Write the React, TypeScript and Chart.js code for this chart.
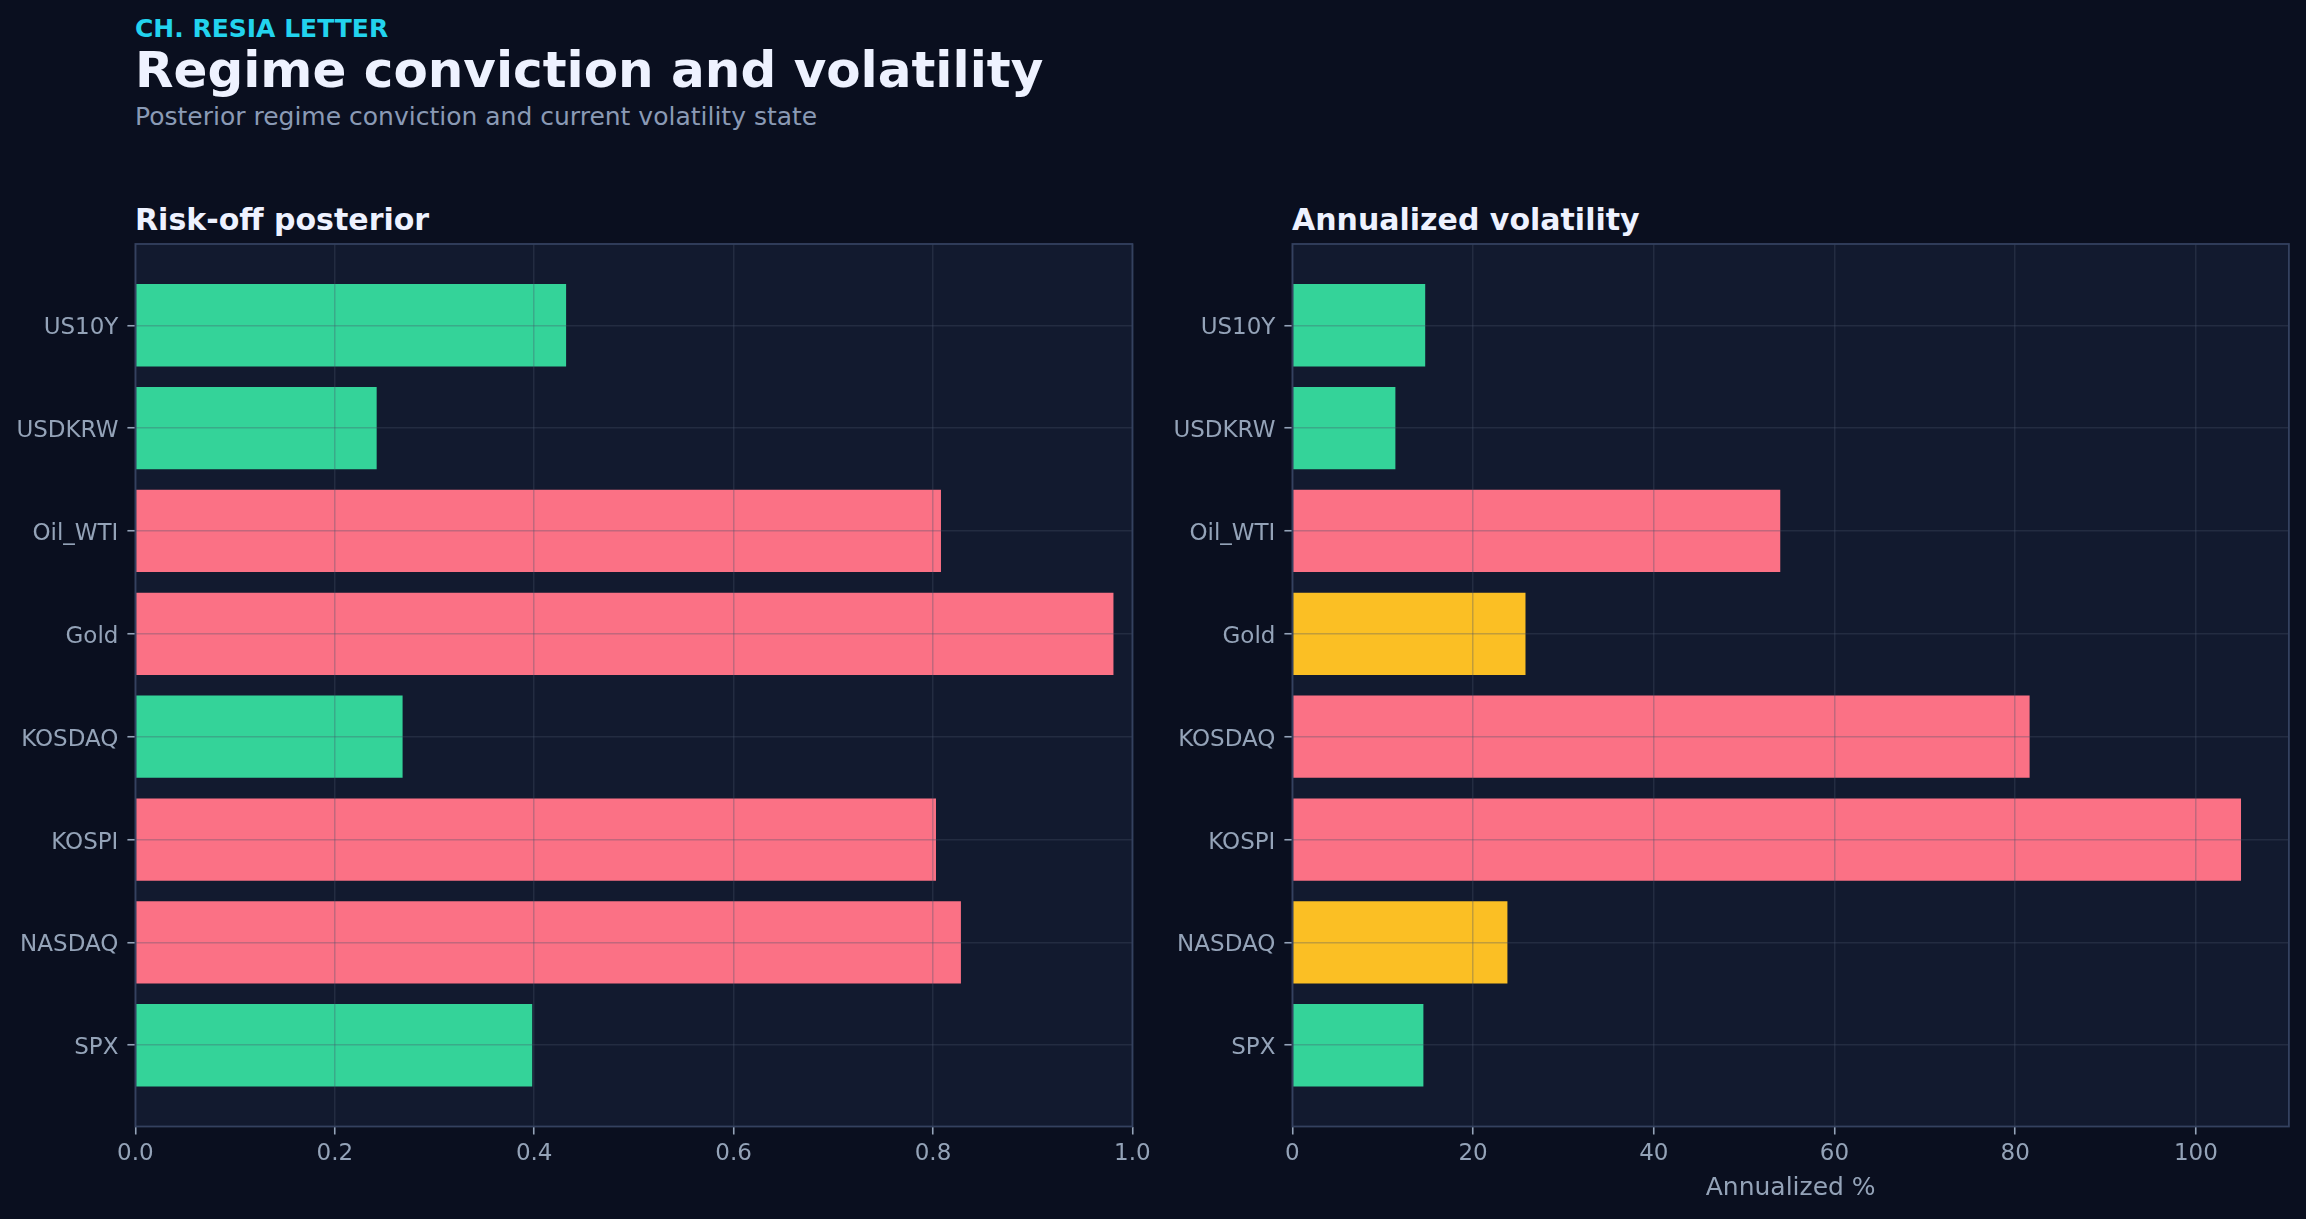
import React, { useEffect, useRef } from 'react';
import { Chart, registerables } from 'chart.js';

Chart.register(...registerables);

// ---------- data (bottom-to-top order, as drawn on the y axis) ----------
const categories = ['SPX', 'NASDAQ', 'KOSPI', 'KOSDAQ', 'Gold', 'Oil_WTI', 'USDKRW', 'US10Y'];
const riskOffPosterior = [0.398, 0.828, 0.803, 0.268, 0.981, 0.808, 0.242, 0.432];
const annualizedVol = [14.5, 23.8, 105.0, 81.6, 25.8, 54.0, 11.4, 14.7];
const posteriorTicks = [0, 0.2, 0.4, 0.6, 0.8, 1.0];
const volTicks = [0, 20, 40, 60, 80, 100];

// ---------- styles ----------
const FONT = '"DejaVu Sans", "Noto Sans", sans-serif';
const PAGE_BG = '#0a0f1f';
const PLOT_BG = '#121a2f';
const FRAME = '#34415f';
const GRID = 'rgba(71,85,105,0.32)';
const TICK = '#94a3b8';
const LABEL = '#94a3b8';
const GREEN = '#34d399';
const PINK = '#fb7185';
const AMBER = '#fbbf24';

const posteriorColor = (v: number) => (v >= 0.5 ? PINK : GREEN);
const volColor = (v: number) => (v < 20 ? GREEN : v < 50 ? AMBER : PINK);

const panelPlugin = {
  id: 'panelFrame',
  beforeDraw(chart: any) {
    const { ctx, chartArea: a } = chart;
    ctx.save();
    ctx.fillStyle = PLOT_BG;
    ctx.fillRect(a.left, a.top, a.right - a.left, a.bottom - a.top);
    ctx.restore();
  },
  afterDraw(chart: any) {
    const { ctx, chartArea: a } = chart;
    ctx.save();
    ctx.strokeStyle = FRAME;
    ctx.lineWidth = 1.8;
    ctx.strokeRect(a.left, a.top, a.right - a.left, a.bottom - a.top);
    ctx.restore();
  },
};

interface PanelProps {
  values: number[];
  colorFn: (v: number) => string;
  xMax: number;
  xTicks: number[];
  fmt: (v: number) => string;
  xTitle?: string;
  left: number;
  width: number;
  yAxisWidth: number;
  padRight: number;
}

const CANVAS_TOP = 234;
const CANVAS_H = 985;
const PAD_TOP = 10;
const X_AXIS_H = 92.5;

const zeroPad = (s: any) => {
  s.paddingTop = 0;
  s.paddingBottom = 0;
  s.paddingLeft = 0;
  s.paddingRight = 0;
};

function Panel(p: PanelProps) {
  const ref = useRef<HTMLCanvasElement | null>(null);
  useEffect(() => {
    if (!ref.current) return;
    const gridOpts = {
      z: 1,
      offset: false,
      color: GRID,
      lineWidth: 1.5,
      tickColor: TICK,
      tickLength: 8,
      tickWidth: 1.6,
      drawTicks: true,
    };
    const chart = new Chart(ref.current, {
      type: 'bar',
      data: {
        datasets: [
          {
            data: p.values.map((v, i) => ({ x: v, y: i })),
            backgroundColor: p.values.map(p.colorFn),
            borderWidth: 0,
            barPercentage: 0.8,
            categoryPercentage: 1.0,
          },
        ],
      },
      options: {
        indexAxis: 'y',
        responsive: false,
        animation: false,
        devicePixelRatio: 1,
        layout: { padding: { top: PAD_TOP, right: p.padRight, bottom: 0, left: 0 } },
        plugins: { legend: { display: false }, tooltip: { enabled: false } },
        scales: {
          y: {
            type: 'linear',
            offset: false,
            min: -0.79,
            max: 7.79,
            afterBuildTicks: (s: any) => {
              s.ticks = categories.map((_, i) => ({ value: i }));
            },
            afterFit: (s: any) => {
              s.width = p.yAxisWidth;
              zeroPad(s);
            },
            grid: gridOpts,
            border: { display: false },
            ticks: {
              autoSkip: false,
              color: LABEL,
              padding: 9,
              labelOffset: 3,
              font: { family: FONT, size: 23 },
              callback: (v: any) => categories[v as number] ?? '',
            },
          },
          x: {
            type: 'linear',
            position: 'bottom',
            offset: false,
            min: 0,
            max: p.xMax,
            afterBuildTicks: (s: any) => {
              s.ticks = p.xTicks.map((v) => ({ value: v }));
            },
            afterFit: (s: any) => {
              s.height = X_AXIS_H;
              zeroPad(s);
            },
            grid: gridOpts,
            border: { display: false },
            ticks: {
              autoSkip: false,
              maxRotation: 0,
              color: LABEL,
              padding: 6,
              font: { family: FONT, size: 23 },
              callback: (v: any) => p.fmt(v as number),
            },
            title: {
              display: !!p.xTitle,
              text: p.xTitle || '',
              color: LABEL,
              font: { family: FONT, size: 25 },
              padding: { top: 0, bottom: 16 },
            },
          },
        },
      },
      plugins: [panelPlugin],
    } as any);
    return () => chart.destroy();
  }, []);
  return (
    <canvas
      ref={ref}
      width={p.width}
      height={CANVAS_H}
      style={{ position: 'absolute', left: p.left, top: CANVAS_TOP, width: p.width, height: CANVAS_H }}
    />
  );
}

function Txt(props: { text: string; left: number; baseline: number; size: number; color: string; bold?: boolean }) {
  const top = props.baseline - 0.846 * props.size;
  return (
    <div
      style={{
        position: 'absolute',
        left: props.left,
        top,
        fontFamily: FONT,
        fontSize: props.size,
        lineHeight: `${props.size}px`,
        fontWeight: props.bold ? 700 : 400,
        color: props.color,
        whiteSpace: 'nowrap',
      }}
    >
      {props.text}
    </div>
  );
}

export default function App() {
  useEffect(() => {
    document.body.style.margin = '0';
    document.body.style.background = PAGE_BG;
  }, []);
  return (
    <div style={{ position: 'absolute', left: 0, top: 0, width: 2306, height: 1219, background: PAGE_BG, overflow: 'hidden' }}>
      <Txt text="CH. RESIA LETTER" left={135} baseline={36.7} size={25} color="#22d3ee" bold />
      <Txt text="Regime conviction and volatility" left={135} baseline={87.3} size={50} color="#eef2ff" bold />
      <Txt text="Posterior regime conviction and current volatility state" left={135} baseline={125} size={25} color="#8a9ab5" />
      <Txt text="Risk-off posterior" left={135} baseline={230} size={30} color="#eef2ff" bold />
      <Txt text="Annualized volatility" left={1292} baseline={230} size={30} color="#eef2ff" bold />
      <Panel
        values={riskOffPosterior}
        colorFn={posteriorColor}
        xMax={1.0}
        xTicks={posteriorTicks}
        fmt={(v) => v.toFixed(1)}
        left={0}
        width={1160}
        yAxisWidth={135.4}
        padRight={27.6}
      />
      <Panel
        values={annualizedVol}
        colorFn={volColor}
        xMax={110.3}
        xTicks={volTicks}
        fmt={(v) => String(Math.round(v))}
        xTitle="Annualized %"
        left={1160}
        width={1146}
        yAxisWidth={132.4}
        padRight={17.1}
      />
    </div>
  );
}
